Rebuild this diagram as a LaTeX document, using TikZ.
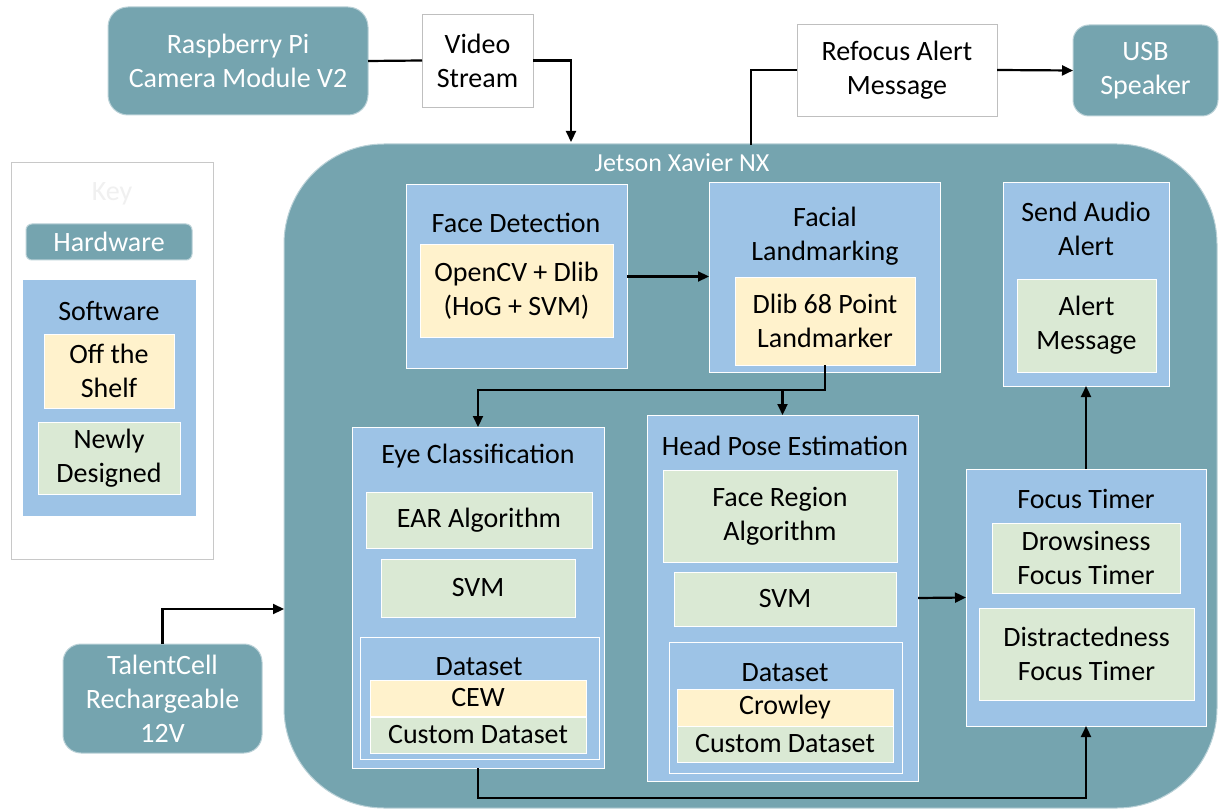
\documentclass[tikz,border=0pt]{standalone}
\usepackage{fontspec}
\setmainfont{Carlito}
\usetikzlibrary{arrows.meta,positioning,calc}
\definecolor{hwteal}{HTML}{75A4AF}
\definecolor{swblue}{HTML}{9DC3E6}
\definecolor{offshelf}{HTML}{FFF2CC}
\definecolor{newgreen}{HTML}{DAE9D4}
\definecolor{keygray}{HTML}{C8C8C8}
\definecolor{msggray}{HTML}{BFBFBF}
\tikzset{
  wh/.style 2 args={minimum width=#1, minimum height=#2},
  hwbox/.style={
    rectangle, rounded corners=#1, fill=hwteal, draw=hwteal!50!white,
    line width=1pt, text=white, align=center,
    inner sep=0pt, outer sep=0pt, anchor=north west
  },
  hwbox/.default=14pt,
  swbox/.style={
    rectangle, fill=swblue, draw=white, line width=1pt,
    inner sep=0pt, outer sep=0pt, anchor=north west
  },
  partbox/.style={
    rectangle, fill=#1, draw=white, line width=1pt, align=center,
    inner sep=0pt, outer sep=0pt, anchor=north west
  },
  partbox/.default=newgreen,
  msgbox/.style={
    rectangle, fill=white, draw=msggray, line width=0.8pt, align=center,
    inner sep=0pt, outer sep=0pt, anchor=north west
  },
  titletext/.style={align=center},
  flow/.style={-{Triangle[length=11pt,width=10pt]}, line width=2.2pt, black},
  wire/.style={line width=2.2pt, black},
}

\begin{document}
\begin{tikzpicture}[x=1pt, y=-1pt, font=\fontsize{28}{34}\selectfont]
  \useasboundingbox (0,0) rectangle (1220,810);

  % Key
  \node[msgbox, draw=keygray, wh={202pt}{397pt}] (key) at (11,162) {};
  \node[titletext, text=black!6] (keyt) at (112,194) {Key};
  \node[hwbox=6pt, wh={166pt}{36pt}] (khw) at (26,224) {Hardware};
  \node[swbox, wh={174pt}{237pt}] (ksw) at (22,279) {};
  \node[titletext] (kswt) at (109,311) {Software};
  \node[partbox=offshelf, wh={130pt}{74pt}] (kots) at (44,334) {Off the\\Shelf};
  \node[partbox, wh={142pt}{72pt}] (knew) at (38,422) {Newly\\Designed};

  % Hardware
  \node[hwbox=20pt, wh={260pt}{108pt}] (cam) at (108,7) {Raspberry Pi\\Camera Module V2};
  \node[msgbox, wh={111pt}{93pt}] (vid) at (422,14) {Video\\Stream};
  \node[msgbox, wh={200pt}{92pt}] (alert) at (797,24) {Refocus Alert\\Message};
  \node[hwbox=16pt, wh={145pt}{91pt}] (spk) at (1073,25) {USB\\Speaker};
  \node[hwbox=18pt, wh={199pt}{109pt}] (bat) at (63,644) {TalentCell\\Rechargeable\\12V};
  \node[hwbox=100pt, wh={933pt}{664pt}] (jet) at (284,144) {};
  \node[titletext, text=white, font=\fontsize{26}{30}\selectfont] (jett) at (682,163) {Jetson Xavier NX};

  % Face detection and landmarking
  \node[swbox, wh={221pt}{183pt}] (fd) at (406,185) {};
  \node[titletext] (fdt) at (516,223) {Face Detection};
  \node[partbox=offshelf, wh={193pt}{92pt}] (fdp) at (420,245) {OpenCV + Dlib\\(HoG + SVM)};
  \node[swbox, wh={231pt}{189pt}] (fl) at (709,183) {};
  \node[titletext] (flt) at (825,236) {Facial\\Landmarking};
  \node[partbox=offshelf, wh={180pt}{88pt}] (flp) at (735,277) {Dlib 68 Point\\Landmarker};

  % Audio alert
  \node[swbox, wh={166pt}{203pt}] (sa) at (1003,183) {};
  \node[titletext] (sat) at (1086,229) {Send Audio\\Alert};
  \node[partbox, wh={139pt}{93pt}] (sap) at (1017,279) {Alert\\Message};

  % Eye classification
  \node[swbox, wh={252pt}{341pt}] (eye) at (352,427) {};
  \node[titletext] (eyet) at (478,456) {Eye Classification};
  \node[partbox, wh={226pt}{56pt}] (ear) at (366,492) {EAR Algorithm};
  \node[partbox, wh={194pt}{58pt}] (esvm) at (381,559) {SVM};
  \node[swbox, wh={239pt}{122pt}] (eds) at (360,637) {};
  \node[titletext] (edst) at (479,667) {Dataset};
  \node[partbox=offshelf, wh={216pt}{36pt}] (cew) at (370,680) {CEW};
  \node[partbox, wh={216pt}{36pt}] (ecus) at (370,717) {Custom Dataset};

  % Head pose estimation
  \node[swbox, wh={271pt}{366pt}] (hp) at (647,415) {};
  \node[titletext] (hpt) at (785,446) {Head Pose Estimation};
  \node[partbox, wh={234pt}{92pt}] (fra) at (663,470) {Face Region\\Algorithm};
  \node[partbox, wh={222pt}{54pt}] (hsvm) at (674,572) {SVM};
  \node[swbox, wh={233pt}{131pt}] (hds) at (669,642) {};
  \node[titletext] (hdst) at (785,673) {Dataset};
  \node[partbox=offshelf, wh={216pt}{37pt}] (crow) at (677,689) {Crowley};
  \node[partbox, wh={216pt}{36pt}] (hcus) at (677,726) {Custom Dataset};

  % Focus timer
  \node[swbox, wh={240pt}{257pt}] (ft) at (966,469) {};
  \node[titletext] (ftt) at (1086,499) {Focus Timer};
  \node[partbox, wh={188pt}{70pt}] (drow) at (992,523) {Drowsiness\\Focus Timer};
  \node[partbox, wh={215pt}{92pt}] (dist) at (979,608) {Distractedness\\Focus Timer};

  % Connectors
  \coordinate (vin) at (571,142);
  \coordinate (aout) at (751,145);
  \coordinate (bin) at (284,609);
  \coordinate (lmk) at ($(flp.south)+(0,25)$);

  \draw[wire] (cam.east) -- (vid.west);
  \draw[flow] (vid.east) -| (vin);
  \draw[wire] (aout) |- (alert.west);
  \draw[flow] (alert.east) -- (spk.west);
  \draw[flow] (bat.north) |- (bin);
  \draw[flow] (fd.east) -- (fd.east -| fl.west);
  \draw[flow] (flp.south) -- (lmk) -| (eye.north);
  \draw[flow] (lmk -| hp.north) -- (hp.north);
  \draw[flow] (hp.east) -- (ft.west);
  \draw[flow] (ft.north) -- (sa.south);
  \draw[flow] (eye.south) -- ++(0,30) -| (ft.south);
\end{tikzpicture}
\end{document}
